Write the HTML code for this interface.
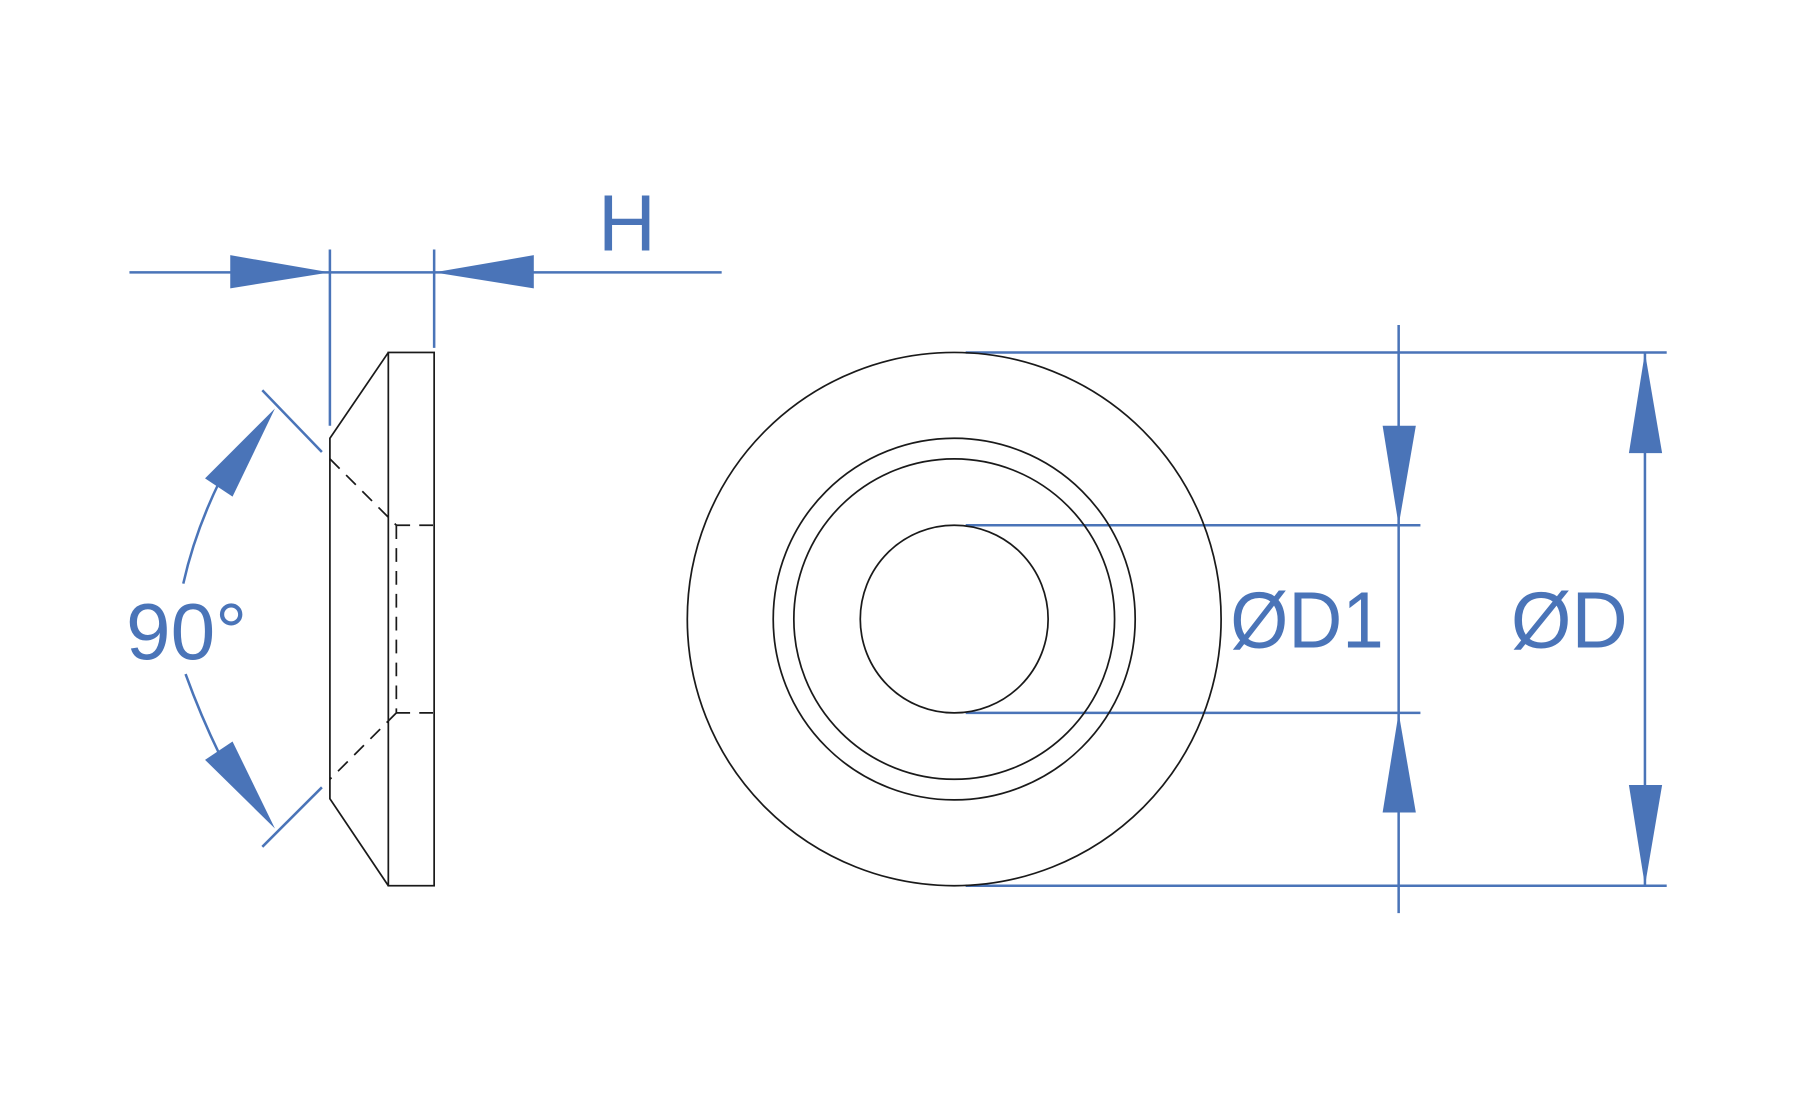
<!DOCTYPE html>
<html><head><meta charset="utf-8"><style>
html,body{margin:0;padding:0;background:#fff;}
svg{display:block;}
text{font-family:"Liberation Sans",sans-serif;fill:#4a74b8;}
</style></head><body>
<svg width="1795" height="1110" viewBox="0 0 1567 970" preserveAspectRatio="none" xmlns="http://www.w3.org/2000/svg">
<g stroke="#4a74b8" stroke-width="2.2" fill="none">
<line x1="113" y1="238" x2="630" y2="238"/>
<line x1="288" y1="218" x2="288" y2="372"/>
<line x1="379" y1="218" x2="379" y2="304"/>
<line x1="229" y1="341" x2="281" y2="395"/>
<line x1="229" y1="740" x2="281" y2="688"/>
<path d="M160,510 Q170,465 192,420"/>
<path d="M162,589 Q175,625 192,660"/>
<line x1="843" y1="308" x2="1455" y2="308"/>
<line x1="843" y1="774" x2="1455" y2="774"/>
<line x1="843" y1="459" x2="1240" y2="459"/>
<line x1="843" y1="623" x2="1240" y2="623"/>
<line x1="1221" y1="284" x2="1221" y2="798"/>
<line x1="1436" y1="308" x2="1436" y2="774"/>
</g>
<g fill="#4a74b8">
<polygon points="201,223 288,238 201,252"/>
<polygon points="466,223 379,238 466,252"/>
<polygon points="240,357 179,418 203,434"/>
<polygon points="240,724 179,664 203,648"/>
<polygon points="1207,372 1236,372 1221,459"/>
<polygon points="1207,710 1236,710 1221,623"/>
<polygon points="1422,396 1451,396 1436,308"/>
<polygon points="1422,686 1451,686 1436,774"/>
</g>
<g stroke="#1a1a1a" stroke-width="1.5" fill="none">
<rect x="339" y="308" width="40" height="466"/>
<polyline points="339,308 288,383 288,698 339,774"/>
<g stroke-dasharray="12,8">
<line x1="288" y1="401" x2="346" y2="459"/>
<line x1="346" y1="459" x2="346" y2="623"/>
<line x1="346" y1="623" x2="288" y2="681"/>
<line x1="346" y1="459" x2="379" y2="459"/>
<line x1="346" y1="623" x2="379" y2="623"/>
</g>
<circle cx="833" cy="541" r="233"/>
<circle cx="833" cy="541" r="158"/>
<circle cx="833" cy="541" r="140"/>
<circle cx="833" cy="541" r="82"/>
</g>
<text x="522" y="219" font-size="70">H</text>
<text x="110" y="576" font-size="70">90°</text>
<text x="1074" y="566" font-size="70" textLength="134" lengthAdjust="spacingAndGlyphs">ØD1</text>
<text x="1319" y="566" font-size="70" textLength="102" lengthAdjust="spacingAndGlyphs">ØD</text>
</svg>
</body></html>
